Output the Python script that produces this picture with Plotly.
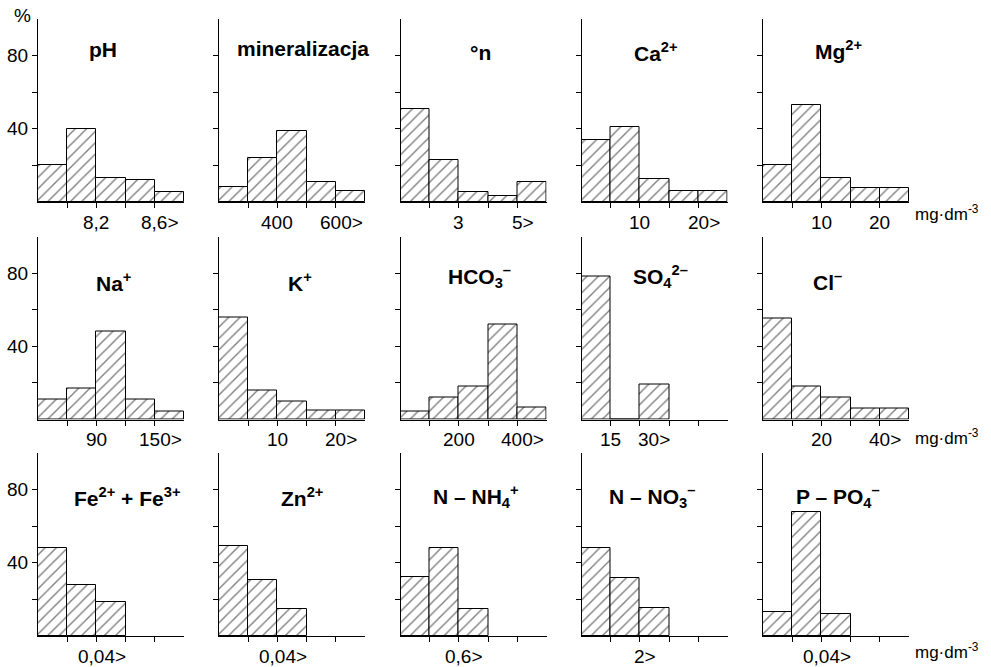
import plotly.graph_objects as go

# ---------------- data (percent of samples per class) ----------------
ph = [20, 40, 13, 12, 5.5]
mineralizacja = [8, 24, 39, 11, 6]
deg_n = [51, 23, 5.5, 3.5, 11]
ca = [34, 41, 12.5, 6, 6]
mg = [20, 53, 13, 7.5, 7.5]
na = [11, 17, 48, 11, 4.5]
k_ion = [56, 16, 10, 5, 5]
hco3 = [4.5, 12, 18, 52, 6.5]
so4 = [78, 0, 19]
cl = [55, 18, 12, 6, 6]
fe = [48, 28, 18.5]
zn = [49, 30.5, 14.5]
nh4 = [32, 48, 15]
no3 = [48, 31.5, 15.5]
po4 = [13, 68, 12]

panel_values = [ph, mineralizacja, deg_n, ca, mg,
                na, k_ion, hco3, so4, cl,
                fe, zn, nh4, no3, po4]

panel_titles = ["pH", "mineralizacja", "°n", "Ca<sup>2+</sup>", "Mg<sup>2+</sup>",
                "Na<sup>+</sup>", "K<sup>+</sup>", "HCO<sub>3</sub><sup>–</sup>",
                "SO<sub>4</sub><sup>2–</sup>", "Cl<sup>–</sup>",
                "Fe<sup>2+</sup> + Fe<sup>3+</sup>", "Zn<sup>2+</sup>",
                "N – NH<sub>4</sub><sup>+</sup>", "N – NO<sub>3</sub><sup>–</sup>",
                "P – PO<sub>4</sub><sup>–</sup>"]

# x tick labels: (text, class boundary index)
panel_ticklabels = [
    [("8,2", 2), ("8,6>", 4)],
    [("400", 2), ("600>", 4)],
    [("3", 2), ("5>", 4)],
    [("10", 2), ("20>", 4)],
    [("10", 2), ("20", 4)],
    [("90", 2), ("150>", 4)],
    [("10", 2), ("20>", 4)],
    [("200", 2), ("400>", 4)],
    [("15", 1), ("30>", 2)],
    [("20", 2), ("40>", 4)],
    [("0,04>", 2)],
    [("0,04>", 2)],
    [("0,6>", 2)],
    [("2>", 2)],
    [("0,04>", 2)],
]

y_major_ticks = [40, 80]
y_minor_ticks = [20, 60]
unit_label = "mg·dm<sup>-3</sup>"

# ---------------- layout geometry (pixels) ----------------
W, H = 991, 667
COL_X0 = [38, 219, 400.5, 581.5, 763]
PANEL_W = 146
ROW_ZERO = [202, 419.5, 636]
PANEL_H = 183
FONT = "Liberation Sans, Arial, sans-serif"
TITLE_SIZE = 21
TICK_SIZE = 19

# title centres (px)
title_pos = [(103, 50), (303, 49), (480, 52), (656, 52), (838, 50),
             (113, 282), (300, 282), (479, 277), (660, 277), (827, 281),
             (127, 497), (302, 497), (476, 496), (652, 496), (838, 496)]
label_extra_shift = {(8, 1): 9}
unit_pos = [(913, 213), (913, 437), (913, 651)]

fig = go.Figure()
layout = dict(width=W, height=H, margin=dict(l=0, r=0, t=0, b=0),
              paper_bgcolor="white", plot_bgcolor="white", showlegend=False,
              bargap=0, font=dict(family=FONT, color="black"))
annotations = []

for i, vals in enumerate(panel_values):
    r, c = divmod(i, 5)
    xname = "x" if i == 0 else f"x{i+1}"
    yname = "y" if i == 0 else f"y{i+1}"
    xkey = "xaxis" if i == 0 else f"xaxis{i+1}"
    ykey = "yaxis" if i == 0 else f"yaxis{i+1}"
    x0 = COL_X0[c]
    zero = ROW_ZERO[r]

    fig.add_bar(
        x=[j + 0.5 for j in range(len(vals))], y=vals, width=1,
        xaxis=xname, yaxis=yname, hoverinfo="skip",
        marker=dict(color="white", line=dict(color="black", width=1),
                    pattern=dict(shape="/", fgcolor="black", bgcolor="white",
                                 size=8, solidity=0.17)),
    )
    layout[xkey] = dict(domain=[x0 / W, (x0 + PANEL_W) / W], range=[0, 5], anchor=yname,
                        showline=True, linecolor="black", linewidth=1,
                        ticks="outside", ticklen=5, tickcolor="black", tickwidth=1,
                        tickvals=[1, 2, 3, 4], showticklabels=False,
                        showgrid=False, zeroline=False, fixedrange=True)
    layout[ykey] = dict(domain=[1 - zero / H, 1 - (zero - PANEL_H) / H], range=[0, 100],
                        anchor=xname, showline=True, linecolor="black", linewidth=1,
                        ticks="outside", ticklen=5, tickcolor="black", tickwidth=1,
                        tickvals=y_major_ticks, showticklabels=(c == 0),
                        minor=dict(tickvals=y_minor_ticks, ticks="outside", ticklen=5,
                                   tickcolor="black", tickwidth=1, showgrid=False),
                        tickfont=dict(size=TICK_SIZE, family=FONT, color="black"),
                        showgrid=False, zeroline=False, fixedrange=True)

    # x tick labels (number centred on class boundary, ">" hanging to the right)
    for li, (txt, pos) in enumerate(panel_ticklabels[i]):
        shift = (TICK_SIZE * 0.584 / 2) if txt.endswith(">") else 0
        shift += label_extra_shift.get((i, li), 0)
        annotations.append(dict(text=txt, x=pos, y=0, xref=xname, yref=yname,
                                xanchor="center", yanchor="middle",
                                xshift=shift, yshift=-20,
                                showarrow=False,
                                font=dict(size=TICK_SIZE, family=FONT, color="black")))

    tx, ty = title_pos[i]
    annotations.append(dict(text=panel_titles[i], x=tx / W, y=1 - ty / H,
                            xref="paper", yref="paper", xanchor="center", yanchor="middle",
                            showarrow=False,
                            font=dict(size=TITLE_SIZE, family=FONT, color="black",
                                      weight="bold")))

for ux, uy in unit_pos:
    annotations.append(dict(text=unit_label, x=ux / W, y=1 - uy / H, xref="paper", yref="paper",
                            xanchor="left", yanchor="middle", showarrow=False,
                            font=dict(size=17, family=FONT, color="black")))

annotations.append(dict(text="%", x=22 / W, y=1 - 16 / H, xref="paper", yref="paper",
                        xanchor="center", yanchor="middle", showarrow=False,
                        font=dict(size=TICK_SIZE, family=FONT, color="black")))

layout["annotations"] = annotations
fig.update_layout(**layout)
fig.write_html("out.html", config={"displayModeBar": False},
               post_script="document.body.style.margin='0px';document.body.style.padding='0px';")
